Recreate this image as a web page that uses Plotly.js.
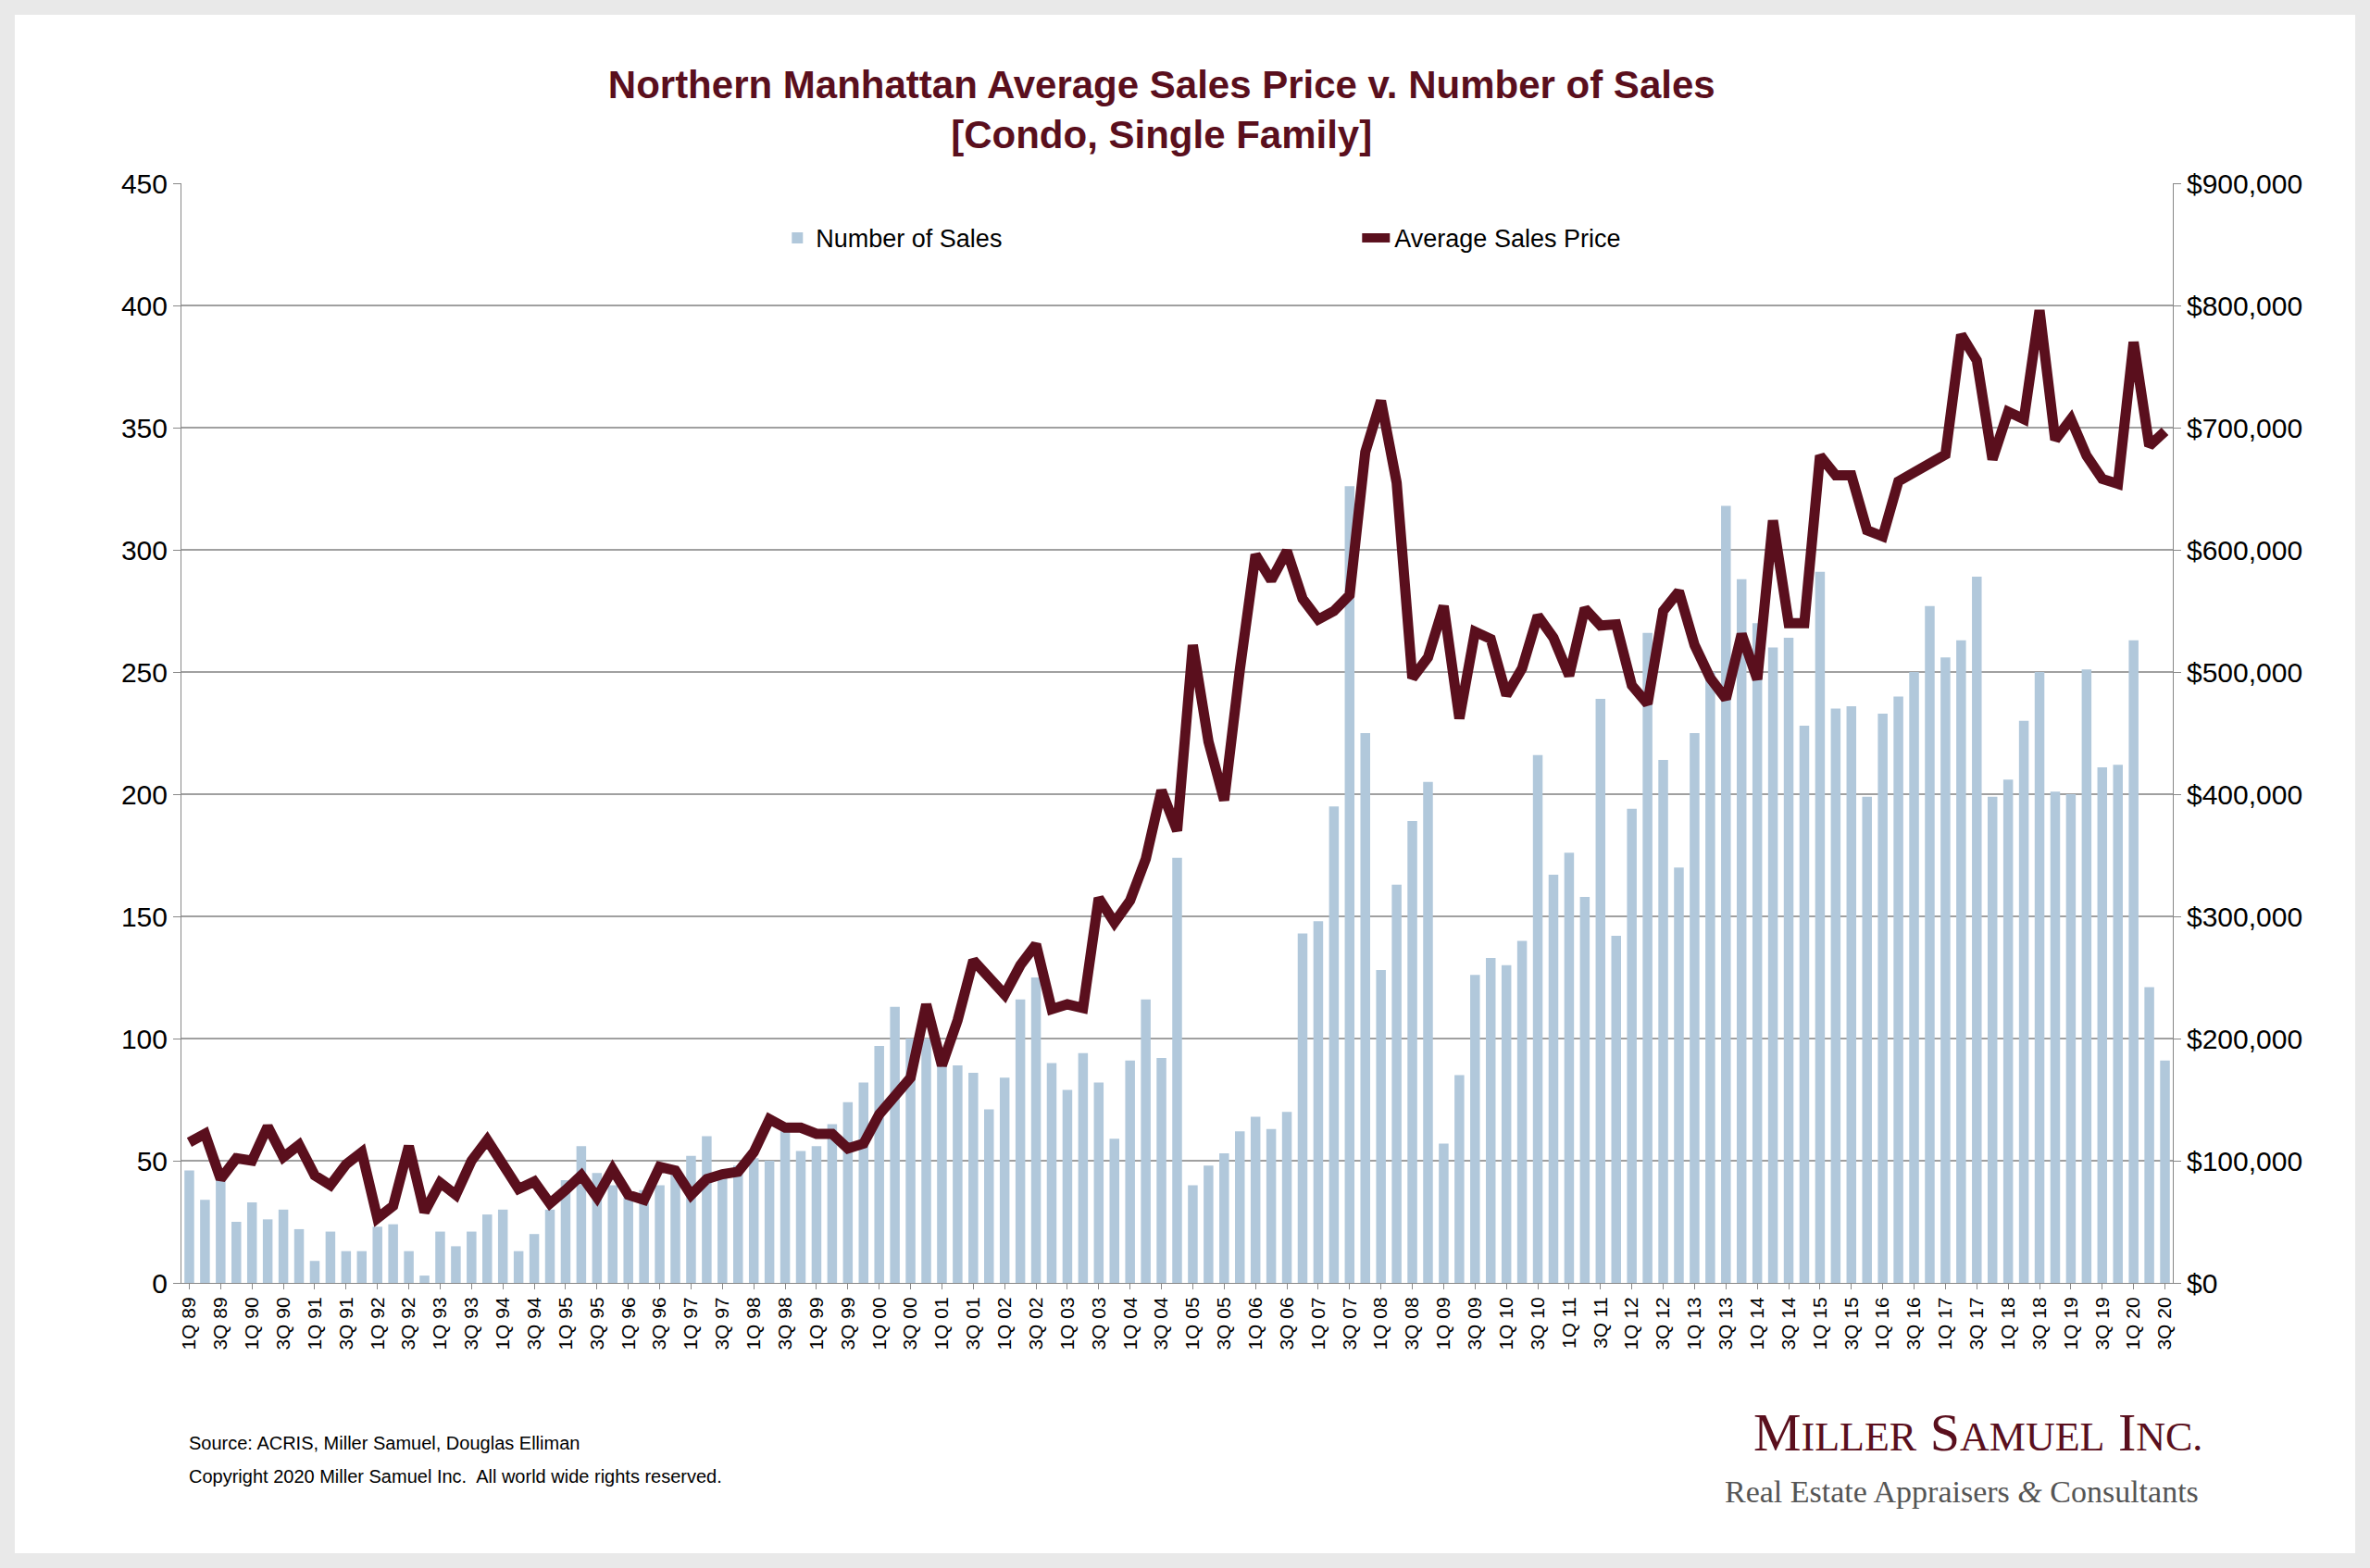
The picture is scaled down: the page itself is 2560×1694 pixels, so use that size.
<!DOCTYPE html>
<html>
<head>
<meta charset="utf-8">
<script src="https://cdn.plot.ly/plotly-3.0.1.min.js"></script>
<style>
  html, body { margin: 0; padding: 0; background: #e9e9e9; }
  #chart { position: absolute; left: 16px; top: 16px; width: 2528px; height: 1662px; background: #fff; }
</style>
</head>
<body>
<div id="chart"></div>
<script>
// quarters 1Q89 .. 3Q20
const quarters = [];
for (let y = 1989; y <= 2020; y++) {
  for (let q = 1; q <= 4; q++) {
    if (y === 2020 && q > 3) break;
    quarters.push(q + 'Q ' + String(y % 100).padStart(2, '0'));
  }
}

const numberOfSales = [
  46, 34, 42, 25, 33, 26, 30, 22, 9, 21,
  13, 13, 23, 24, 13, 3, 21, 15, 21, 28,
  30, 13, 20, 30, 42, 56, 45, 40, 35, 38,
  40, 45, 52, 60, 45, 48, 51, 50, 62, 54,
  56, 65, 74, 82, 97, 113, 100, 100, 95, 89,
  86, 71, 84, 116, 125, 90, 79, 94, 82, 59,
  91, 116, 92, 174, 40, 48, 53, 62, 68, 63,
  70, 143, 148, 195, 326, 225, 128, 163, 189, 205,
  57, 85, 126, 133, 130, 140, 216, 167, 176, 158,
  239, 142, 194, 266, 214, 170, 225, 250, 318, 288,
  270, 260, 264, 228, 291, 235, 236, 199, 233, 240,
  250, 277, 256, 263, 289, 199, 206, 230, 250, 201,
  200, 251, 211, 212, 263, 121, 91
];

// average sales price, thousands of dollars
const avgPriceK = [
  115, 122, 85, 102, 100, 128, 103, 113, 88, 80,
  97, 107, 53, 63, 112, 58, 82, 72, 100, 117,
  97, 77, 83, 65, 76, 88, 70, 93, 72, 68,
  95, 92, 72, 85, 89, 91, 107, 134, 127, 127,
  122, 122, 110, 114, 138, 154, 168, 228, 178, 215,
  264, 250, 236, 260, 277, 224, 228, 225, 315, 295,
  313, 347, 403, 370, 522, 443, 395, 502, 596, 575,
  599, 560, 543, 550, 563, 680, 722, 655, 495, 512,
  554, 462, 533, 527, 481, 503, 546, 528, 497, 552,
  538, 539, 489, 474, 550, 566, 522, 495, 478, 531,
  494, 624, 540, 540, 677, 661, 661, 616, 611, 656,
  664, 672, 678, 776, 755, 674, 713, 707, 796, 690,
  707, 677, 658, 654, 770, 685, 697
];
const avgPrice = avgPriceK.map(v => v * 1000);

const tickQuarters = quarters.filter((q, i) => i % 2 === 0);

const maroon = '#5a0f1d';
const font = 'Liberation Sans, Arial, sans-serif';

const traces = [
  {
    x: quarters, y: numberOfSales, type: 'bar', name: 'Number of Sales',
    marker: { color: '#b1c8db' }, width: 0.62
  },
  {
    x: quarters, y: avgPrice, type: 'scatter', mode: 'lines', name: 'Average Sales Price',
    yaxis: 'y2', line: { color: maroon, width: 11 }
  }
];

const sc = 'font-size:44px';
const layout = {
  width: 2528, height: 1662,
  paper_bgcolor: '#fff', plot_bgcolor: '#fff',
  margin: { l: 180, r: 197, t: 182, b: 292 },
  font: { family: font, color: '#000' },
  title: {
    text: '<b>Northern Manhattan Average Sales Price v. Number of Sales<br>[Condo, Single Family]</b>',
    font: { size: 42, color: maroon }, x: 0.49, xanchor: 'center', y: 0.946, yanchor: 'top'
  },
  showlegend: true,
  legend: {
    orientation: 'h', x: 0.3, xanchor: 'left', y: 0.95, yanchor: 'middle',
    font: { size: 27 }, entrywidth: 580, itemwidth: 30, bgcolor: 'rgba(0,0,0,0)'
  },
  bargap: 0.38,
  xaxis: {
    type: 'category', tickvals: tickQuarters, ticktext: tickQuarters,
    tickangle: -90, tickfont: { size: 21 }, showgrid: false,
    showline: true, linecolor: '#888', ticks: 'outside', ticklen: 6, tickcolor: '#888'
  },
  yaxis: {
    range: [0, 450], dtick: 50, tickfont: { size: 30 }, gridcolor: '#a0a0a0', gridwidth: 1.5,
    showline: true, linecolor: '#888', ticks: 'outside', ticklen: 8, tickcolor: '#888', zeroline: false
  },
  yaxis2: {
    overlaying: 'y', side: 'right', range: [0, 900000], dtick: 100000,
    tickprefix: '$', tickformat: ',d', tickfont: { size: 30 }, showgrid: false,
    showline: true, linecolor: '#888', ticks: 'outside', ticklen: 8, tickcolor: '#888', zeroline: false
  },
  annotations: [
    { xref: 'paper', yref: 'paper', x: 0.003, y: -0.146, xanchor: 'left', yanchor: 'middle', showarrow: false,
      text: 'Source: ACRIS, Miller Samuel, Douglas Elliman', font: { size: 20 } },
    { xref: 'paper', yref: 'paper', x: 0.003, y: -0.176, xanchor: 'left', yanchor: 'middle', showarrow: false,
      text: 'Copyright 2020 Miller Samuel Inc.  All world wide rights reserved.', font: { size: 20 } },
    { xref: 'paper', yref: 'paper', x: 1.016, y: -0.136, xanchor: 'right', yanchor: 'middle', showarrow: false,
      text: 'M<span style="' + sc + '">ILLER</span> S<span style="' + sc + '">AMUEL</span> I<span style="' + sc + '">NC.</span>',
      font: { size: 58, color: maroon, family: 'Liberation Serif, Times New Roman, serif' } },
    { xref: 'paper', yref: 'paper', x: 1.014, y: -0.19, xanchor: 'right', yanchor: 'middle', showarrow: false,
      text: 'Real Estate Appraisers <i>&amp;</i> Consultants',
      font: { size: 34, color: '#555', family: 'Liberation Serif, Times New Roman, serif' } }
  ]
};

Plotly.newPlot('chart', traces, layout, { displayModeBar: false, staticPlot: true });
</script>
</body>
</html>
